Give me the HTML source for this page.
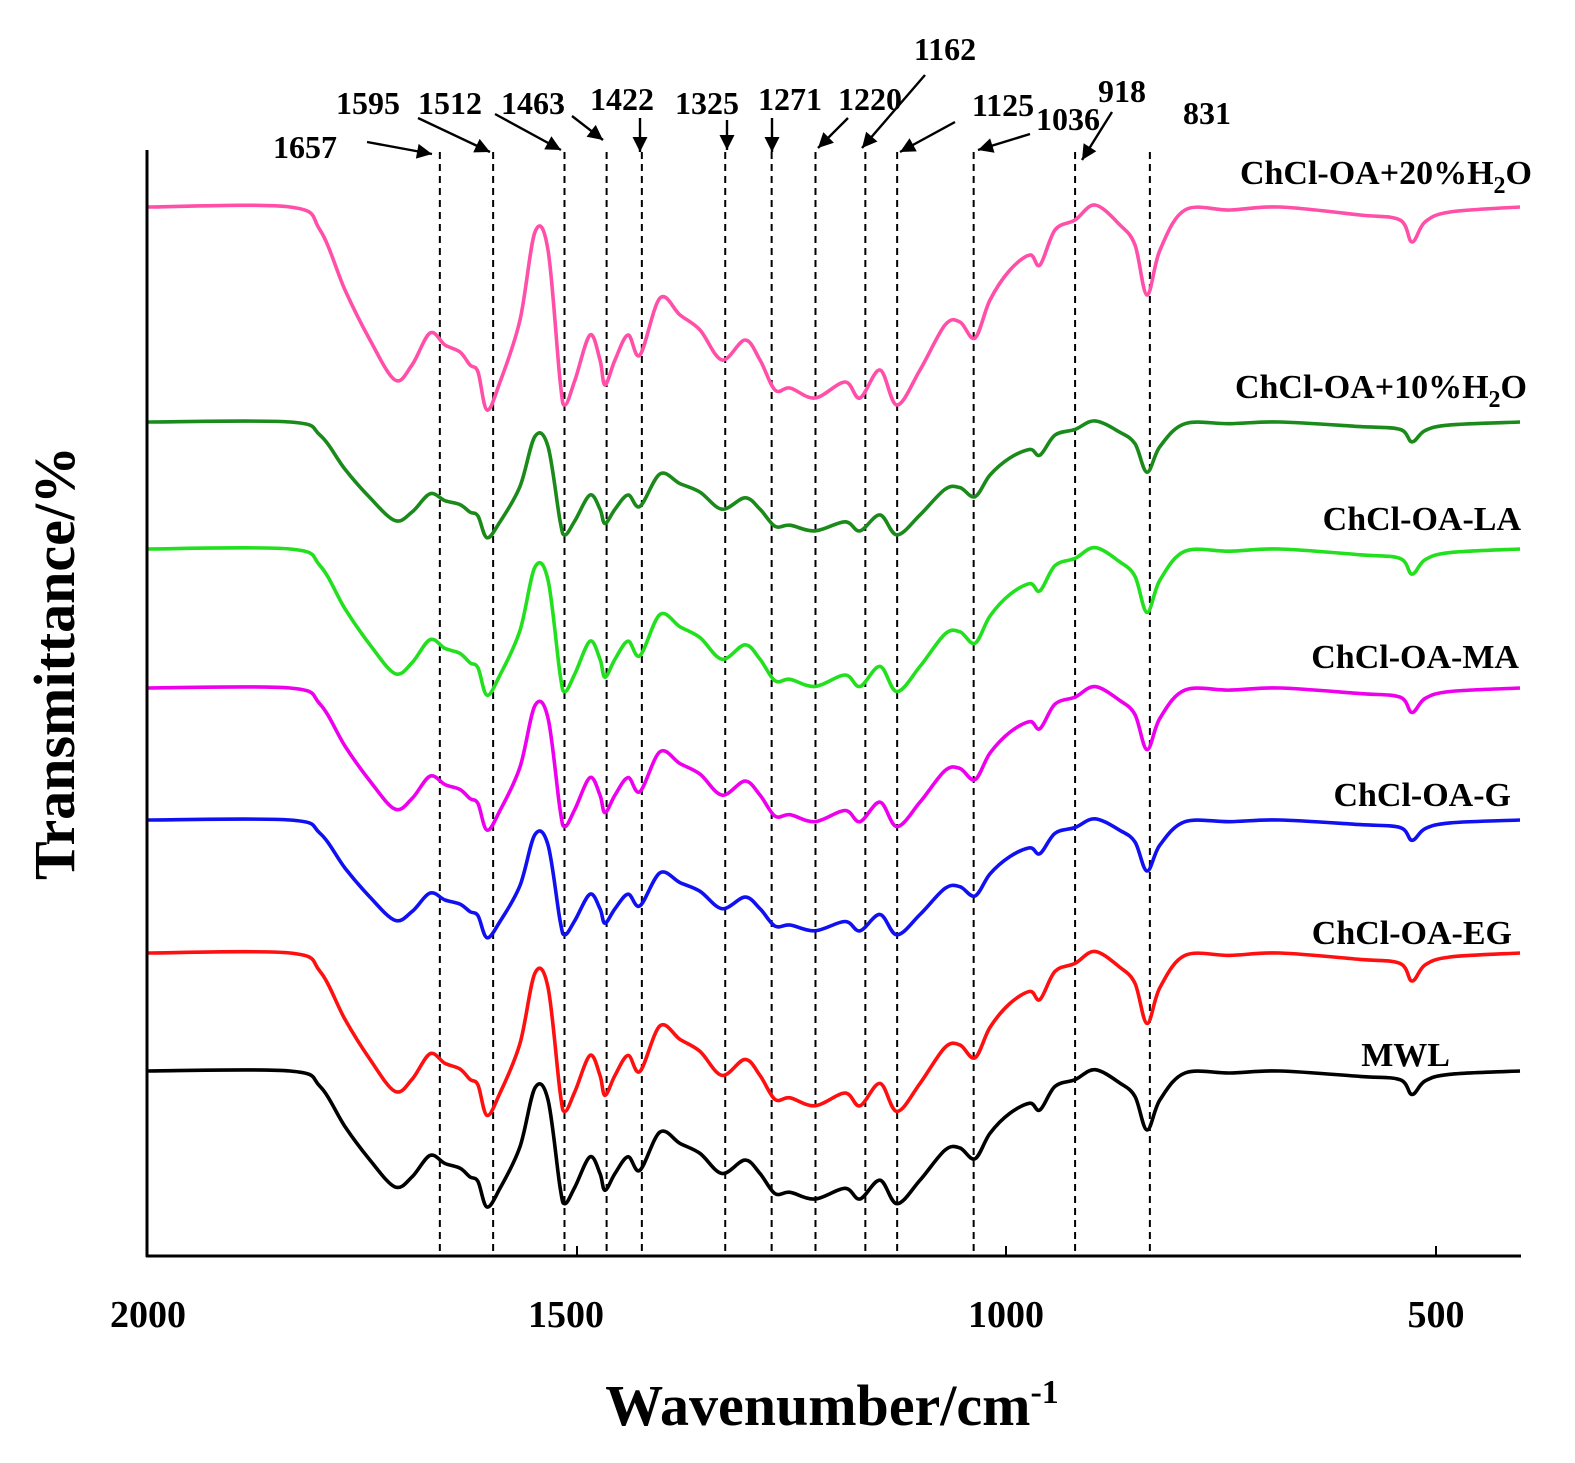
<!DOCTYPE html>
<html><head><meta charset="utf-8"><style>
html,body{margin:0;padding:0;background:#fff;}
svg{display:block;}
text{font-family:"Liberation Serif",serif;font-weight:bold;fill:#000;}
</style></head><body>
<svg id="s" width="1575" height="1463" viewBox="0 0 1575 1463" xmlns="http://www.w3.org/2000/svg">
<defs>
<marker id="a" viewBox="0 0 10 10" refX="10" refY="5" markerWidth="18" markerHeight="15" orient="auto" markerUnits="userSpaceOnUse"><path d="M0,0 L10,5 L0,10 z" fill="#000"/></marker></defs>
<g id="dash" stroke="#000" stroke-width="2" stroke-dasharray="7,5"></g>
<g id="curves" fill="none" stroke-width="3.6" stroke-linejoin="round"></g>
<line x1="147" y1="150" x2="147" y2="1257" stroke="#000" stroke-width="3"/>
<line x1="146" y1="1256" x2="1521" y2="1256" stroke="#000" stroke-width="3"/>
<g font-size="38" text-anchor="middle">
<text x="148" y="1327">2000</text><text x="566" y="1327">1500</text><text x="1006" y="1327">1000</text><text x="1436" y="1327">500</text>
</g>
<line x1="577" y1="1256" x2="577" y2="1246" stroke="#000" stroke-width="2"/>
<line x1="1006" y1="1256" x2="1006" y2="1246" stroke="#000" stroke-width="2"/>
<line x1="1436" y1="1256" x2="1436" y2="1246" stroke="#000" stroke-width="2"/>
<text x="832" y="1425" font-size="58" text-anchor="middle">Wavenumber/cm<tspan dy="-22" font-size="34">-1</tspan></text>
<text transform="translate(74,663) rotate(-90)" font-size="58" text-anchor="middle">Transmittance/%</text>
<g font-size="34" text-anchor="end">
<text x="1532" y="184">ChCl-OA+20%H<tspan font-size="24" dy="9">2</tspan><tspan dy="-9">O</tspan></text>
<text x="1527" y="398">ChCl-OA+10%H<tspan font-size="24" dy="9">2</tspan><tspan dy="-9">O</tspan></text>
<text x="1521" y="530">ChCl-OA-LA</text>
<text x="1519" y="668">ChCl-OA-MA</text>
<text x="1511" y="806">ChCl-OA-G</text>
<text x="1512" y="944">ChCl-OA-EG</text>
<text x="1450" y="1066">MWL</text>
</g>
<g font-size="32" text-anchor="middle">
<text x="305" y="158">1657</text><text x="368" y="114">1595</text><text x="450" y="114">1512</text><text x="533" y="114">1463</text>
<text x="622" y="110">1422</text><text x="707" y="114">1325</text><text x="790" y="110">1271</text><text x="870" y="110">1220</text>
<text x="945" y="60">1162</text><text x="1003" y="116">1125</text><text x="1068" y="130">1036</text><text x="1122" y="102">918</text><text x="1207" y="124">831</text>
</g>
<g stroke="#000" stroke-width="2.4" marker-end="url(#a)">
<line x1="367" y1="142" x2="432" y2="154"/>
<line x1="418" y1="118" x2="490" y2="152"/>
<line x1="495" y1="114" x2="561" y2="150"/>
<line x1="572" y1="116" x2="603" y2="140"/>
<line x1="640" y1="118" x2="640" y2="152"/>
<line x1="727" y1="120" x2="727" y2="150"/>
<line x1="772" y1="118" x2="772" y2="152"/>
<line x1="848" y1="118" x2="818" y2="148"/>
<line x1="925" y1="75" x2="862" y2="148"/>
<line x1="955" y1="122" x2="900" y2="152"/>
<line x1="1030" y1="134" x2="978" y2="150"/>
<line x1="1112" y1="112" x2="1082" y2="160"/>
</g>
</svg>
<script>
var ns="http://www.w3.org/2000/svg";
var dg=document.getElementById("dash");
[1657,1595,1512,1463,1422,1325,1271,1220,1162,1125,1036,918,831].forEach(function(w){
 var x=145+(2000-w)*0.8596;var l=document.createElementNS(ns,"line");
 l.setAttribute("x1",x);l.setAttribute("x2",x);l.setAttribute("y1",152);l.setAttribute("y2",1256);dg.appendChild(l);});
var T=[[147,207],[290,207],[320,230],[345,290],[370,340],[395,380],[412,365],[430,333],[445,345],[460,352],[470,365],[478,372],[487,410],[500,382],[520,320],[535,232],[548,250],[560,380],[565,405],[575,380],[590,335],[600,360],[605,385],[615,360],[628,335],[640,355],[660,298],[680,315],[700,330],[722,360],[745,340],[760,360],[775,390],[790,388],[815,398],[845,382],[860,398],[880,370],[897,405],[920,370],[945,325],[960,322],[975,338],[990,300],[1010,270],[1030,255],[1040,265],[1055,230],[1075,220],[1095,205],[1120,225],[1135,245],[1147,295],[1160,250],[1185,210],[1230,210],[1280,207],[1360,215],[1400,220],[1412,242],[1425,222],[1450,212],[1520,207]];
var S=[["#ff4fa8",207,1],["#1a8a1a",422,0.57],["#22e01e",549,0.72],["#ee00ee",688,0.70],["#1010f0",820,0.58],["#ff1010",953,0.80],["#000",1071,0.67]];
function path(p){var d="M"+p[0][0]+","+p[0][1];
 for(var i=0;i<p.length-1;i++){var p0=p[i>0?i-1:i],p1=p[i],p2=p[i+1],p3=p[i+2<p.length?i+2:i+1];
 d+=" C"+(p1[0]+(p2[0]-p0[0])/6).toFixed(1)+","+(p1[1]+(p2[1]-p0[1])/6).toFixed(1)+" "+(p2[0]-(p3[0]-p1[0])/6).toFixed(1)+","+(p2[1]-(p3[1]-p1[1])/6).toFixed(1)+" "+p2[0]+","+p2[1];}
 return d;}
var cg=document.getElementById("curves");
S.forEach(function(s){var p=T.map(function(q){return [q[0],+(s[1]+(q[1]-207)*s[2]).toFixed(1)];});
 var e=document.createElementNS(ns,"path");e.setAttribute("d",path(p));e.setAttribute("stroke",s[0]);cg.appendChild(e);});
</script>
</body></html>
